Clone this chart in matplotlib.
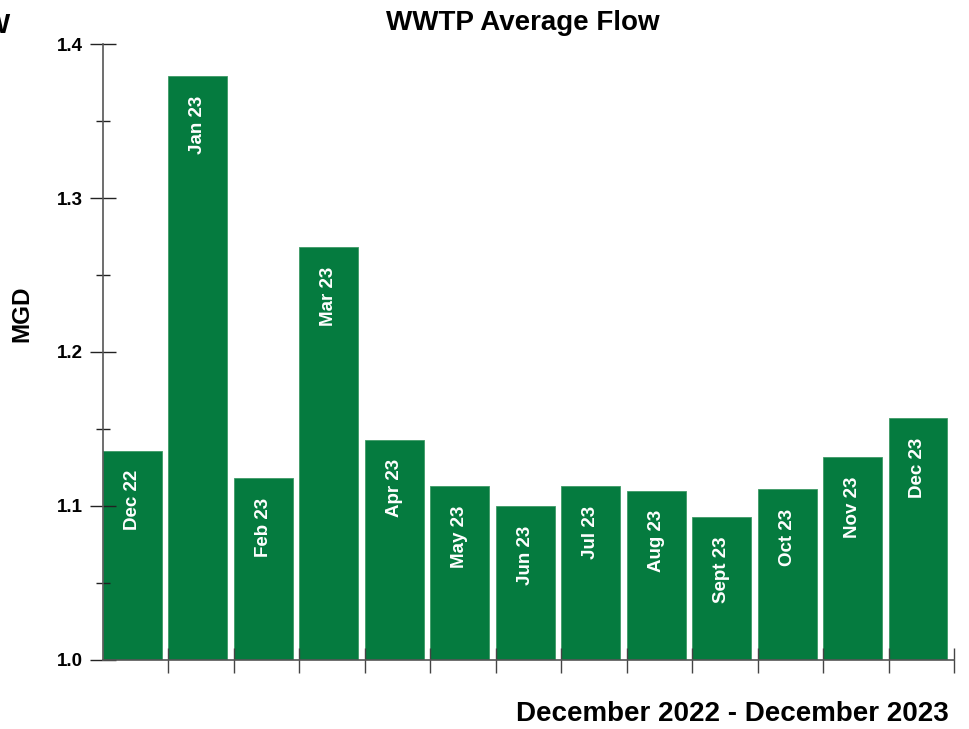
import matplotlib.pyplot as plt
from matplotlib.ticker import MultipleLocator

# Monthly average flow at the treatment plant
months = ["Dec 22", "Jan 23", "Feb 23", "Mar 23", "Apr 23", "May 23", "Jun 23",
          "Jul 23", "Aug 23", "Sept 23", "Oct 23", "Nov 23", "Dec 23"]
flow_mgd = [1.136, 1.379, 1.118, 1.268, 1.143, 1.113, 1.100,
            1.113, 1.110, 1.093, 1.111, 1.132, 1.157]

green = "#057b3f"
font = "Liberation Sans"

fig = plt.figure(figsize=(9.7, 7.29), dpi=100)
ax = fig.add_axes([0.1062, 0.0947, 0.8773, 0.8449])

x = range(len(months))
bars = ax.bar(x, flow_mgd, width=0.9, align="edge", color=green,
              edgecolor="#3f9a66", linewidth=0.6)

# month names written inside the top of each bar
for rect, name in zip(bars, months):
    ax.annotate(name, (rect.get_x() + rect.get_width() / 2, rect.get_height()),
                xytext=(0, -14), textcoords="offset points",
                rotation=90, ha="center", va="top", color="white",
                fontsize=13.5, fontweight="bold", family=font)

ax.set_xlim(0, len(months))
ax.set_ylim(1.0, 1.4)
ax.set_xticks(range(1, len(months) + 1))
ax.set_xticklabels([])
ax.yaxis.set_major_locator(MultipleLocator(0.1))
ax.yaxis.set_minor_locator(MultipleLocator(0.05))
ax.yaxis.set_major_formatter(lambda v, p: f"{v:.1f}")

for s in ["top", "right"]:
    ax.spines[s].set_visible(False)
for s in ["left", "bottom"]:
    ax.spines[s].set_color("#555555")
    ax.spines[s].set_linewidth(1.2)

ax.tick_params(axis="x", direction="inout", length=18, width=1, color="#444444")
ax.tick_params(axis="y", which="major", direction="inout", length=19, width=1,
               color="#222222", pad=5)
ax.tick_params(axis="y", which="minor", direction="inout", length=9.5, width=1,
               color="#222222")
for lab in ax.get_yticklabels():
    lab.set_fontsize(13.5)
    lab.set_fontweight("bold")
    lab.set_family(font)

fig.text(0.539, 0.968, "WWTP Average Flow", ha="center", va="center",
         fontsize=20, fontweight="heavy", family=font)
fig.text(0.023, 0.57, "MGD", rotation=90, ha="center", va="center",
         fontsize=17.5, fontweight="heavy", family=font)
fig.text(0.978, 0.021, "December 2022 - December 2023", ha="right", va="center",
         fontsize=20, fontweight="heavy", family=font)
fig.text(0.011, 0.965, "W", ha="right", va="center",
         fontsize=20, fontweight="heavy", family=font)

fig.savefig("out.png", dpi=100)
